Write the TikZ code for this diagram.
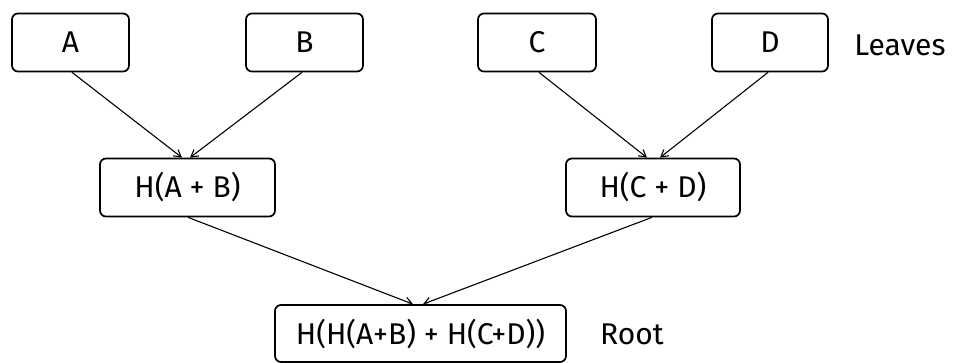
\documentclass[tikz,border=0pt]{standalone}
\usepackage{fontspec}
\setmainfont{Fira Sans}
\usetikzlibrary{arrows.meta}
\begin{document}
\begin{tikzpicture}[x=1pt,y=-1pt,
  hbox/.style={draw, line width=1.7pt, rounded corners=6pt, minimum height=58pt, inner sep=0pt, font=\fontsize{30}{34}\selectfont},
  lbl/.style={font=\fontsize{30}{34}\selectfont, inner sep=0pt},
  conn/.style={line width=1.1pt, -{Straight Barb[length=7pt,width=8pt,line width=1.1pt]}}]
\useasboundingbox (0,0) rectangle (958,363);
\node[hbox, minimum width=117pt] (A) at (70.5,42.5) {A};
\node[hbox, minimum width=117pt] (B) at (304.5,42.5) {B};
\node[hbox, minimum width=118pt] (C) at (537,42.5) {C};
\node[hbox, minimum width=116pt] (D) at (770,42.5) {D};
\node[lbl] (leaves) at (900,45) {Leaves};
\node[hbox, minimum width=175pt] (HAB) at (187.5,187.5) {H(A + B)};
\node[hbox, minimum width=174pt] (HCD) at (653,187.5) {H(C + D)};
\node[hbox, minimum width=291pt, minimum height=57pt] (R) at (420.5,333.5) {H(H(A+B) + H(C+D))};
\node[lbl] (root) at (632,334) {Root};
\draw[conn] ([xshift=1.5pt]A.south) -- ([xshift=-5.5pt]HAB.north);
\draw[conn] ([xshift=-2.5pt]B.south) -- ([xshift=2.5pt]HAB.north);
\draw[conn] ([xshift=2pt]C.south) -- ([xshift=-6pt]HCD.north);
\draw[conn] ([xshift=-2pt]D.south) -- ([xshift=7pt]HCD.north);
\draw[conn] ([xshift=0.5pt]HAB.south) -- ([xshift=-7.5pt]R.north);
\draw[conn] ([xshift=-1pt]HCD.south) -- ([xshift=2.5pt]R.north);
\end{tikzpicture}
\end{document}
